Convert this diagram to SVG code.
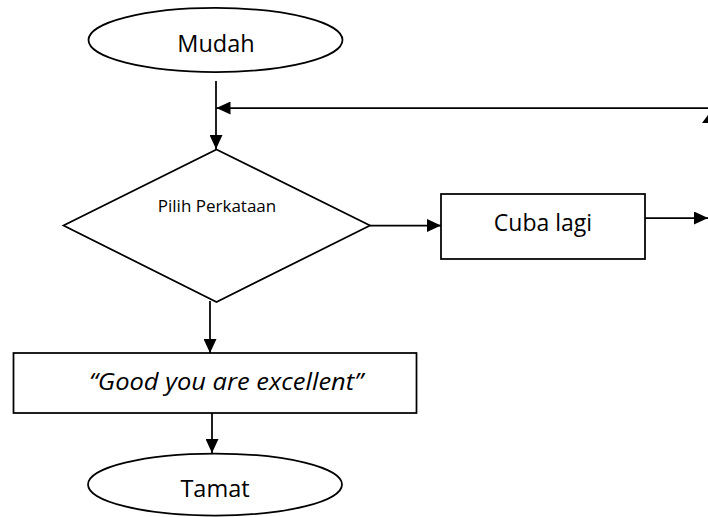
<svg xmlns="http://www.w3.org/2000/svg" width="708" height="517" viewBox="0 0 708 517">
<style>
.s{fill:#fff;stroke:#000;stroke-width:1.75}
.c{fill:none;stroke:#000;stroke-width:1.75}
text{font-family:"Open Sans","Liberation Sans",sans-serif;fill:#000;text-anchor:middle}
</style>
<defs>
<marker id="a" markerUnits="userSpaceOnUse" markerWidth="14" markerHeight="13" refX="14" refY="6.5" orient="auto" viewBox="0 0 14 13">
<path d="M0,0 L14,6.5 L0,13 z" fill="#000"/>
</marker>
</defs>
<rect width="708" height="517" fill="#fff"/>
<g id="mudah"><ellipse class="s" cx="215.5" cy="40" rx="127" ry="32"/><text x="216" y="52" font-size="23.5">Mudah</text></g>
<g id="pilih"><polygon class="s" points="216.5,149.5 370,225.5 216.5,302 63.5,225.5"/><text x="217" y="212" font-size="17">Pilih Perkataan</text></g>
<g id="cuba"><rect class="s" x="441" y="194" width="204" height="65"/><text x="543" y="231" font-size="23">Cuba lagi</text></g>
<g id="good"><rect class="s" x="13.5" y="353" width="403" height="60"/><text x="226" y="390" font-size="24" font-style="italic" textLength="274" lengthAdjust="spacingAndGlyphs">“Good you are excellent”</text></g>
<g id="tamat"><ellipse class="s" cx="215" cy="484.5" rx="127" ry="31"/><text x="215" y="497" font-size="23.5">Tamat</text></g>
<g id="connectors">
<line class="c" x1="216" y1="81" x2="216" y2="149" marker-end="url(#a)"/>
<line class="c" x1="708" y1="108" x2="216.5" y2="108" marker-end="url(#a)"/>
<polygon points="708,115 702,123 714,123" fill="#000"/>
<line class="c" x1="370" y1="225.5" x2="441" y2="225.5" marker-end="url(#a)"/>
<line class="c" x1="645" y1="218" x2="708" y2="218" marker-end="url(#a)"/>
<line class="c" x1="210" y1="301" x2="210" y2="353" marker-end="url(#a)"/>
<line class="c" x1="212" y1="413" x2="212" y2="453" marker-end="url(#a)"/>
</g>
</svg>
